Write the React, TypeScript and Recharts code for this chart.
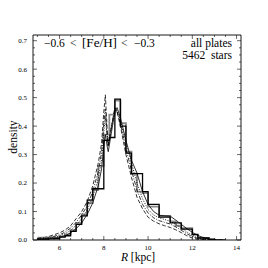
import { LineChart, Line, XAxis, YAxis } from 'recharts';

// histogram bin left edges (kpc), last entry closes the final bin
const HIST_R = [
  5.0, 5.25, 5.5, 5.75, 6.0, 6.25, 6.5, 6.75, 7.0, 7.25, 7.5, 7.75, 8.0, 8.25, 8.5, 8.75,
  9.0, 9.25, 9.5, 9.75, 10.0, 10.25, 10.5, 10.75, 11.0, 11.25, 11.5, 11.75, 12.0, 12.25, 12.5, 12.75, 13.0,
];
const HIST_BLACK = [
  0.003, 0.003, 0.004, 0.005, 0.01, 0.015, 0.03, 0.055, 0.085, 0.14, 0.18, 0.18, 0.35, 0.36, 0.495, 0.4,
  0.305, 0.233, 0.233, 0.17, 0.125, 0.125, 0.08, 0.08, 0.06, 0.06, 0.038, 0.038, 0.02, 0.007, 0.007, 0.002, 0,
];
const HIST_GRAY = [
  0.008, 0.004, 0.009, 0.005, 0.013, 0.02, 0.035, 0.06, 0.09, 0.13, 0.175, 0.26, 0.37, 0.44, 0.49, 0.41,
  0.31, 0.233, 0.17, 0.165, 0.117, 0.117, 0.085, 0.085, 0.065, 0.05, 0.042, 0.042, 0.018, 0.008, 0.007, 0.003, 0,
];

// model curves
const MODEL_R = [
  5.0, 5.5, 6.0, 6.25, 6.5, 6.75, 7.0, 7.25, 7.5, 7.75, 7.9, 8.0, 8.07, 8.15, 8.2, 8.35, 8.5, 8.6, 8.75,
  9.0, 9.25, 9.5, 9.75, 10.0, 10.25, 10.5, 10.75, 11.0, 11.25, 11.5, 11.75, 12.0, 12.25, 12.5, 12.75, 13.0, 13.5,
];
const MODEL_SOLID = [
  0.002, 0.004, 0.01, 0.015, 0.025, 0.04, 0.06, 0.09, 0.13, 0.19, 0.25, 0.33, 0.37, 0.33, 0.31, 0.38, 0.45, 0.465, 0.43,
  0.35, 0.28, 0.235, 0.17, 0.125, 0.1, 0.087, 0.085, 0.084, 0.07, 0.055, 0.04, 0.027, 0.016, 0.008, 0.003, 0.001, 0,
];
const MODEL_DASHED = [
  0.005, 0.012, 0.025, 0.035, 0.05, 0.075, 0.1, 0.135, 0.19, 0.27, 0.34, 0.45, 0.51, 0.39, 0.33, 0.4, 0.465, 0.45, 0.4,
  0.3, 0.22, 0.15, 0.11, 0.08, 0.066, 0.057, 0.05, 0.044, 0.036, 0.026, 0.015, 0.007, 0.002, 0, 0, 0, 0,
];
const MODEL_DASHDOT = [
  0.003, 0.008, 0.018, 0.028, 0.042, 0.062, 0.088, 0.12, 0.17, 0.24, 0.31, 0.41, 0.46, 0.37, 0.33, 0.4, 0.46, 0.45, 0.41,
  0.32, 0.245, 0.175, 0.125, 0.095, 0.078, 0.068, 0.062, 0.056, 0.046, 0.034, 0.022, 0.012, 0.005, 0.001, 0, 0, 0,
];
const MODEL_DOTTED = [
  0.002, 0.006, 0.014, 0.022, 0.034, 0.052, 0.075, 0.105, 0.15, 0.215, 0.28, 0.38, 0.43, 0.36, 0.33, 0.4, 0.455, 0.455, 0.42,
  0.34, 0.27, 0.2, 0.145, 0.107, 0.088, 0.078, 0.072, 0.066, 0.055, 0.042, 0.028, 0.016, 0.007, 0.002, 0, 0, 0,
];

const X_MAJOR = [6, 8, 10, 12, 14];
const X_TICKS = [5, 5.5, 6, 6.5, 7, 7.5, 8, 8.5, 9, 9.5, 10, 10.5, 11, 11.5, 12, 12.5, 13, 13.5, 14];
const Y_MAJOR = [0, 0.1, 0.2, 0.3, 0.4, 0.5, 0.6, 0.7];
const Y_TICKS = [
  0, 0.025, 0.05, 0.075, 0.1, 0.125, 0.15, 0.175, 0.2, 0.225, 0.25, 0.275, 0.3, 0.325, 0.35,
  0.375, 0.4, 0.425, 0.45, 0.475, 0.5, 0.525, 0.55, 0.575, 0.6, 0.625, 0.65, 0.675, 0.7,
];

const toRows = (rs: number[], vs: number[]) => rs.map((r, i) => ({ r, v: vs[i] }));

const FONT = '"Liberation Serif", "DejaVu Serif", serif';
const W = 268;
const H = 268;
// axes take 1px each, so the plot box is left 33, top 35, right 241, bottom 240
const M = { top: 34, right: 26, bottom: 27, left: 32 };

const isMajor = (v: number, list: number[]) => list.some((m) => Math.abs(m - v) < 1e-6);

const makeXTick = (side: 'bottom' | 'top') => (props: any) => {
  const { x, y, payload } = props;
  const major = isMajor(payload.value, X_MAJOR);
  const len = major ? 4 : 2;
  const dir = side === 'bottom' ? -1 : 1;
  return (
    <g>
      <line x1={x} x2={x} y1={y} y2={y + dir * len} stroke="#000" strokeWidth={0.6} />
      {side === 'bottom' && major && (
        <text x={x} y={y + 10} textAnchor="middle" fontSize={7} fontFamily={FONT} fill="#000">
          {payload.value}
        </text>
      )}
    </g>
  );
};

const makeYTick = (side: 'left' | 'right') => (props: any) => {
  const { x, y, payload } = props;
  const major = isMajor(payload.value, Y_MAJOR);
  const len = major ? 4 : 2;
  const dir = side === 'left' ? 1 : -1;
  return (
    <g>
      <line x1={x} x2={x + dir * len} y1={y} y2={y} stroke="#000" strokeWidth={0.6} />
      {side === 'left' && major && (
        <text x={x - 6} y={y + 2.4} textAnchor="end" fontSize={7} fontFamily={FONT} fill="#000">
          {payload.value.toFixed(1)}
        </text>
      )}
    </g>
  );
};

const axisCommon = {
  type: 'number' as const,
  allowDataOverflow: true,
  interval: 0 as const,
  tickSize: 0,
  tickMargin: 0,
  tickLine: false,
  axisLine: { stroke: '#000', strokeWidth: 0.9 },
};

export default function App() {
  const domainX: [number, number] = [4.8, 14.2];
  const domainY: [number, number] = [0, 0.72];
  return (
    <div style={{ position: 'absolute', left: 0, top: 0, width: W, height: H, background: '#fff' }}>
      <LineChart width={W} height={H} margin={M}>
        <XAxis xAxisId="b" dataKey="r" domain={domainX} ticks={X_TICKS} height={1}
          tick={makeXTick('bottom')} {...axisCommon} />
        <XAxis xAxisId="t" orientation="top" dataKey="r" domain={domainX} ticks={X_TICKS} height={1}
          tick={makeXTick('top')} {...axisCommon} />
        <YAxis yAxisId="l" domain={domainY} ticks={Y_TICKS} width={1}
          tick={makeYTick('left')} {...axisCommon} />
        <YAxis yAxisId="rr" orientation="right" domain={domainY} ticks={Y_TICKS} width={1}
          tick={makeYTick('right')} {...axisCommon} />
        <Line data={toRows(HIST_R, HIST_GRAY)} xAxisId="b" yAxisId="l" dataKey="v" type="stepAfter"
          stroke="#8a8a8a" strokeWidth={1.8} dot={false} isAnimationActive={false} />
        <Line data={toRows(HIST_R, HIST_BLACK)} xAxisId="b" yAxisId="l" dataKey="v" type="stepAfter"
          stroke="#000" strokeWidth={1.3} dot={false} isAnimationActive={false} />
        <Line data={toRows(MODEL_R, MODEL_DASHED)} xAxisId="b" yAxisId="l" dataKey="v" type="linear"
          stroke="#000" strokeWidth={0.8} strokeDasharray="4 2" dot={false} isAnimationActive={false} />
        <Line data={toRows(MODEL_R, MODEL_DASHDOT)} xAxisId="b" yAxisId="l" dataKey="v" type="linear"
          stroke="#000" strokeWidth={0.8} strokeDasharray="4 1.5 1 1.5" dot={false} isAnimationActive={false} />
        <Line data={toRows(MODEL_R, MODEL_DOTTED)} xAxisId="b" yAxisId="l" dataKey="v" type="linear"
          stroke="#000" strokeWidth={0.9} strokeDasharray="1 1.5" dot={false} isAnimationActive={false} />
        <Line data={toRows(MODEL_R, MODEL_SOLID)} xAxisId="b" yAxisId="l" dataKey="v" type="linear"
          stroke="#000" strokeWidth={0.8} dot={false} isAnimationActive={false} />
      </LineChart>
      <svg
        width={W}
        height={H}
        style={{ position: 'absolute', left: 0, top: 0, pointerEvents: 'none' }}
        fontFamily={FONT}
        fontSize={11.5}
      >
        <text y={47}>
          <tspan x={44}>−0.6</tspan>
          <tspan x={70}>&lt;</tspan>
          <tspan x={82} textLength={35} lengthAdjust="spacingAndGlyphs">[Fe/H]</tspan>
          <tspan x={121}>&lt;</tspan>
          <tspan x={134}>−0.3</tspan>
        </text>
        <text x={232} y={47} textAnchor="end">all plates</text>
        <text x={232} y={59} textAnchor="end" xmlSpace="preserve">5462  stars</text>
        <text x={17} y={137} textAnchor="middle" transform="rotate(-90 17 137)">density</text>
        <text x={138} y={261} textAnchor="middle">
          <tspan fontStyle="italic">R</tspan> [kpc]
        </text>
      </svg>
    </div>
  );
}
